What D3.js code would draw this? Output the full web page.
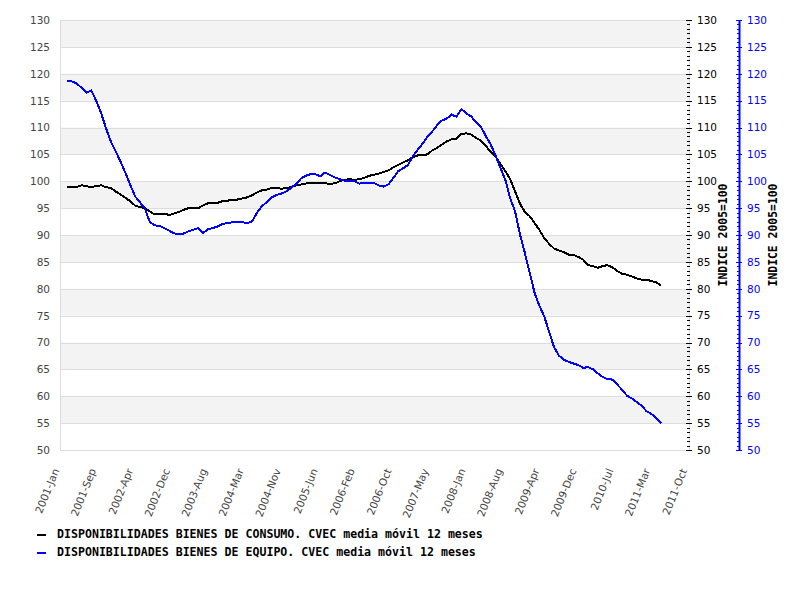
<!DOCTYPE html>
<html>
<head>
<meta charset="utf-8">
<script src="https://cdn.jsdelivr.net/npm/d3@7"></script>
<style>
  html, body { margin: 0; padding: 0; background: #fff; }
  svg { display: block; }
</style>
</head>
<body>
<svg id="chart" width="800" height="600"></svg>
<script>
// ---------------- DATA ----------------
const startYear = 2001, startMonth = 1; // first value: 2001-Feb (month index 1)
const consumo = [
  99.0, 98.9, 98.9, 99.25, 99.1, 98.9, 99.1, 99.25, 98.9, 98.75,
  98.1, 97.5, 96.9, 96.3, 95.5, 95.2, 95.0, 94.4, 93.85, 94.0,
  94.0, 93.7, 94.0, 94.3, 94.7, 95.0, 95.0, 95.0, 95.5, 95.9,
  96.0, 96.0, 96.3, 96.4, 96.5, 96.6, 96.8, 97.0, 97.4, 97.9,
  98.3, 98.45, 98.75, 98.75, 98.6, 98.75, 98.9, 99.2, 99.4, 99.55,
  99.7, 99.75, 99.7, 99.6, 99.55, 99.6, 100.0, 100.3, 100.35, 100.3,
  100.35, 100.6, 101.0, 101.2, 101.4, 101.7, 102.0, 102.6, 103.0, 103.5,
  103.9, 104.5, 104.8, 104.8, 105.0, 105.7, 106.2, 106.8, 107.4, 107.8,
  107.9, 108.8, 108.9, 108.7, 108.05, 107.6, 106.6, 105.45, 104.6, 103.2,
  101.9, 100.4, 98.1, 95.8, 94.3, 93.5, 92.2, 91.0, 89.45, 88.4,
  87.5, 87.15, 86.8, 86.35, 86.3, 85.9, 85.4, 84.4, 84.2, 83.9,
  84.2, 84.4, 84.0, 83.3, 82.8, 82.6, 82.3, 81.9, 81.7, 81.65,
  81.45, 81.2, 80.65
];
const equipo = [
  118.6, 118.6, 118.2, 117.4, 116.5, 116.9, 115.0, 112.7, 109.9, 107.4,
  105.6, 103.6, 101.5, 99.4, 97.2, 96.1, 95.0, 92.5, 91.8, 91.7,
  91.3, 90.8, 90.3, 90.1, 90.3, 90.7, 91.0, 91.3, 90.4, 91.1,
  91.3, 91.6, 92.1, 92.2, 92.4, 92.5, 92.4, 92.2, 92.5, 94.1,
  95.3, 96.1, 97.0, 97.45, 97.7, 98.1, 98.75, 99.5, 100.5, 101.0,
  101.3, 101.35, 100.9, 101.6, 101.2, 100.7, 100.4, 100.1, 100.0, 100.0,
  99.55, 99.7, 99.75, 99.7, 99.25, 99.0, 99.4, 100.6, 101.85, 102.4,
  103.0, 104.6, 105.9, 106.9, 108.2, 109.2, 110.4, 111.3, 111.65, 112.4,
  112.0, 113.4, 112.65, 112.05, 110.9, 110.2, 108.4, 106.9, 104.8, 102.5,
  100.3, 96.8, 94.4, 90.1, 86.7, 82.9, 79.15, 76.9, 74.9, 72.1,
  69.2, 67.6, 66.8, 66.4, 66.1, 65.8, 65.3, 65.4, 65.0, 64.3,
  63.6, 63.2, 63.1, 62.2, 61.2, 60.1, 59.6, 58.9, 58.25, 57.2,
  56.7, 56.0, 55.0
];
const xTickLabels = [
  "2001-Jan", "2001-Sep", "2002-Apr", "2002-Dec", "2003-Aug", "2004-Mar",
  "2004-Nov", "2005-Jun", "2006-Feb", "2006-Oct", "2007-May", "2008-Jan",
  "2008-Aug", "2009-Apr", "2009-Dec", "2010-Jul", "2011-Mar", "2011-Oct"
];
const yTicks = [50, 55, 60, 65, 70, 75, 80, 85, 90, 95, 100, 105, 110, 115, 120, 125, 130];
const greyBands = [130, 120, 110, 100, 90, 80, 70, 60];
const axisTitle = "INDICE 2005=100";
const seriesNames = [
  "DISPONIBILIDADES BIENES DE CONSUMO. CVEC media móvil 12 meses",
  "DISPONIBILIDADES BIENES DE EQUIPO. CVEC media móvil 12 meses"
];
const seriesColors = ["#000000", "#0000ff"];

// ---------------- LAYOUT ----------------
const L = 60, R = 690, T = 20, B = 450;
const svg = d3.select("#chart");
const font = "'DejaVu Sans', Verdana, sans-serif";
const monoFont = "'DejaVu Sans Mono', monospace";

const x = d3.scaleTime()
  .domain([new Date(2001, 0, 1), new Date(2011, 9, 1)])
  .range([L, R - 2]);
const xLab = d3.scalePoint().domain(xTickLabels).range([L, R - 2]);
const yL = d3.scaleLinear().domain([50, 130]).range([B, T]);
const yR = d3.scaleLinear().domain([50, 130]).range([B, T]);
const yB = d3.scaleLinear().domain([50, 130]).range([B, T]);

const dateOf = i => new Date(startYear, startMonth + i, 15);

// bands (between v and v-5)
svg.append("g").selectAll("rect").data(greyBands).join("rect")
  .attr("x", L).attr("width", R - L)
  .attr("y", d => yL(d)).attr("height", d => yL(d - 5) - yL(d))
  .attr("fill", "#f3f3f3");

// grid lines
svg.append("g").selectAll("line").data(yTicks).join("line")
  .attr("x1", L).attr("x2", R)
  .attr("y1", d => Math.round(yL(d)) + 0.5).attr("y2", d => Math.round(yL(d)) + 0.5)
  .attr("stroke", "#dddddd").attr("stroke-width", 1);

// frame left / right
svg.append("line").attr("x1", L + 0.5).attr("x2", L + 0.5).attr("y1", T).attr("y2", B + 1)
  .attr("stroke", "#dddddd");
svg.append("line").attr("x1", R - 0.5).attr("x2", R - 0.5).attr("y1", T).attr("y2", B + 1)
  .attr("stroke", "#dddddd");

// left axis labels
const gL = svg.append("g").attr("transform", `translate(${L},0)`)
  .call(d3.axisLeft(yL).tickValues(yTicks).tickSize(0).tickPadding(10));
gL.select(".domain").remove();
gL.selectAll("text").attr("fill", "#444").style("font-family", font).style("font-size", "10.5px");

// right axes
const minorVals = d3.range(0, 96 + 1).map(k => 50 + k * 5 / 6).filter(v => v <= 130.001);
function drawRightAxis(xpos, scale, color, labelX, titleX) {
  const g = svg.append("g");
  g.selectAll("line.minor").data(minorVals).join("line")
    .attr("x1", xpos - 3).attr("x2", xpos)
    .attr("y1", d => Math.round(scale(d)) + 0.5).attr("y2", d => Math.round(scale(d)) + 0.5)
    .attr("stroke", color);
  g.selectAll("line.major").data(yTicks).join("line")
    .attr("x1", xpos - 4).attr("x2", xpos + 2)
    .attr("y1", d => Math.round(scale(d)) + 0.5).attr("y2", d => Math.round(scale(d)) + 0.5)
    .attr("stroke", color);
  g.selectAll("text.tl").data(yTicks).join("text")
    .attr("x", labelX).attr("y", d => scale(d)).attr("dy", "0.36em")
    .attr("fill", color).style("font-family", font).style("font-size", "10.5px")
    .text(d => d);
  svg.append("text")
    .attr("transform", `translate(${titleX},${(T + B) / 2}) rotate(-90)`)
    .attr("text-anchor", "middle").attr("dy", "0.35em")
    .style("font-family", monoFont).style("font-weight", "bold").style("font-size", "11.4px")
    .attr("fill", "#000").text(axisTitle);
}
drawRightAxis(R, yR, "#000", 697, 722.5);
svg.append("line").attr("x1", 739.5).attr("x2", 739.5).attr("y1", T).attr("y2", B + 1)
  .attr("stroke", "#0000ff").attr("stroke-width", 2);
drawRightAxis(740, yB, "#0000ff", 747, 772.5);

// x labels
svg.append("g").selectAll("text").data(xTickLabels).join("text")
  .attr("transform", d => `translate(${xLab(d) - 4},${B + 19}) rotate(-68)`)
  .attr("text-anchor", "end").attr("dy", "0.35em")
  .attr("fill", "#444").style("font-family", font).style("font-size", "10.5px")
  .text(d => d);

// lines
const line = (scale) => d3.line().x((d, i) => x(dateOf(i))).y(d => scale(d));
svg.append("path").datum(consumo).attr("d", line(yR))
  .attr("fill", "none").attr("stroke", seriesColors[0]).attr("stroke-width", 2)
  .style("shape-rendering", "crispEdges");
svg.append("path").datum(equipo).attr("d", line(yB))
  .attr("fill", "none").attr("stroke", seriesColors[1]).attr("stroke-width", 2)
  .style("shape-rendering", "crispEdges");

// legend
const leg = svg.append("g");
seriesNames.forEach((name, k) => {
  const yy = 535 + k * 18;
  leg.append("line").attr("x1", 37).attr("x2", 46).attr("y1", yy).attr("y2", yy)
    .attr("stroke", seriesColors[k]).attr("stroke-width", 2);
  leg.append("text").attr("x", 57).attr("y", yy + 2.5)
    .style("font-family", monoFont).style("font-weight", "bold").style("font-size", "11.6px")
    .attr("fill", "#000").text(name);
});
</script>
</body>
</html>
